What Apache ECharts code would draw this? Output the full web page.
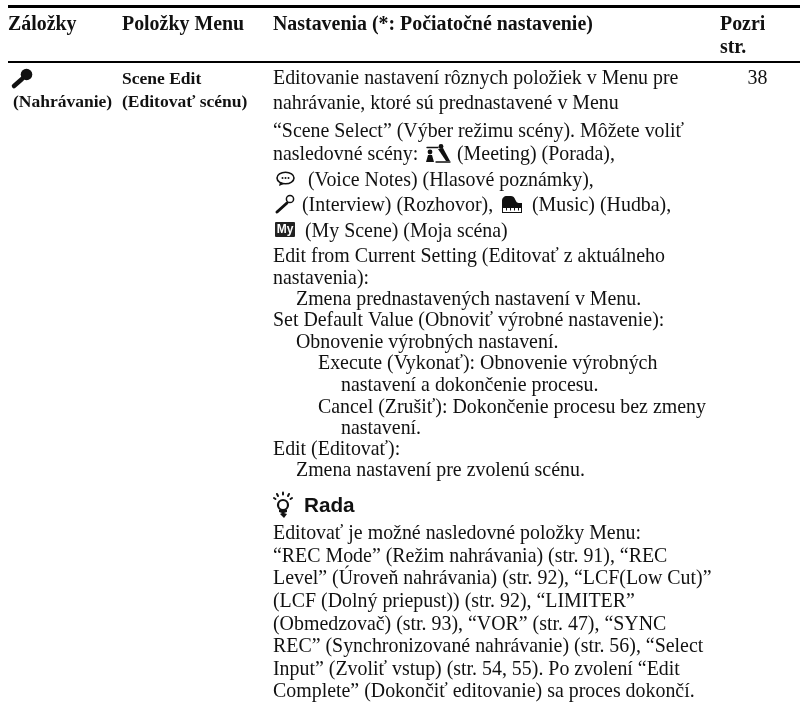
<!DOCTYPE html>
<html>
<head>
<meta charset="utf-8">
<style>
  html,body{margin:0;padding:0;background:#fff}
  #table-chart{width:800px;height:707px}
</style>
</head>
<body>
<div id="table-chart"></div>
<script src="https://cdn.jsdelivr.net/npm/echarts@6/dist/echarts.min.js"></script>
<script>
// table content
var headers = ["Záložky", "Položky Menu", "Nastavenia (*: Počiatočné nastavenie)", "Pozri", "str."]
var tabLabel = "(Nahrávanie)"
var itemLabels = ["Scene Edit", "(Editovať scénu)"]
var pageRef = "38"
var settingsLines = [
  "Editovanie nastavení rôznych položiek v Menu pre",
  "nahrávanie, ktoré sú prednastavené v Menu",
  "“Scene Select” (Výber režimu scény). Môžete voliť",
  "nasledovné scény:",
  "(Meeting) (Porada),",
  "(Voice Notes) (Hlasové poznámky),",
  "(Interview) (Rozhovor),",
  "(Music) (Hudba),",
  "(My Scene) (Moja scéna)",
  "Edit from Current Setting (Editovať z aktuálneho",
  "nastavenia):",
  "Zmena prednastavených nastavení v Menu.",
  "Set Default Value (Obnoviť výrobné nastavenie):",
  "Obnovenie výrobných nastavení.",
  "Execute (Vykonať): Obnovenie výrobných",
  "nastavení a dokončenie procesu.",
  "Cancel (Zrušiť): Dokončenie procesu bez zmeny",
  "nastavení.",
  "Edit (Editovať):",
  "Zmena nastavení pre zvolenú scénu."
]
var tipTitle = "Rada"
var tipLines = [
  "Editovať je možné nasledovné položky Menu:",
  "“REC Mode” (Režim nahrávania) (str. 91), “REC",
  "Level” (Úroveň nahrávania) (str. 92), “LCF(Low Cut)”",
  "(LCF (Dolný priepust)) (str. 92), “LIMITER”",
  "(Obmedzovač) (str. 93), “VOR” (str. 47), “SYNC",
  "REC” (Synchronizované nahrávanie) (str. 56), “Select",
  "Input” (Zvoliť vstup) (str. 54, 55). Po zvolení “Edit",
  "Complete” (Dokončiť editovanie) sa proces dokončí."
]

// layout, same order as settingsLines / tipLines
var settingsX = [273,273,273,273,457,308,302,532,305,273,273,296,273,296,318,341,318,341,273,296]
var settingsY = [85,110,138,161,161,187,212,212,238,263.5,285,306,327,349,370,392,414,435,456,477]
var tipY = [540,563,585,608,631,653,676,698]

var serif = '"Liberation Serif"'
var sans = '"Liberation Sans"'
var bodySize = 19.9

function text(x, baseline, str, size, weight, family, align) {
  return {
    type: 'text',
    x: x,
    y: baseline - size * 0.32,
    style: {
      text: str,
      fontFamily: family || serif,
      fontSize: size,
      fontWeight: weight || 'normal',
      fill: '#111',
      textAlign: align || 'left',
      textVerticalAlign: 'middle'
    }
  }
}
function rule(y, h) {
  return {type: 'rect', shape: {x: 8, y: y, width: 792, height: h}, style: {fill: '#000'}}
}
function icon(x, y, w, h, d) {
  return {type: 'path', shape: {pathData: d, layout: 'cover', x: x, y: y, width: w, height: h}, style: {fill: '#111'}}
}
function dot(cx, cy, r) {
  return {type: 'circle', shape: {cx: cx, cy: cy, r: r}, style: {fill: '#111'}}
}
function stroke(x1, y1, x2, y2, w) {
  return {type: 'line', shape: {x1: x1, y1: y1, x2: x2, y2: y2}, style: {stroke: '#111', lineWidth: w, lineCap: 'round'}}
}

var elements = [rule(5, 3), rule(61, 2)]

// header row
elements.push(text(8, 31, headers[0], bodySize, 'bold'))
elements.push(text(122, 31, headers[1], bodySize, 'bold'))
elements.push(text(273, 31, headers[2], bodySize, 'bold'))
elements.push(text(720, 31, headers[3], bodySize, 'bold'))
elements.push(text(720, 54, headers[4], bodySize, 'bold'))

// first two columns
elements.push(text(13, 108.5, tabLabel, 17.5, 'bold'))
elements.push(text(122, 85, itemLabels[0], 17.5, 'bold'))
elements.push(text(122, 108.5, itemLabels[1], 17.5, 'bold'))
elements.push(text(757.5, 85, pageRef, bodySize, 'normal', serif, 'center'))

settingsLines.forEach(function (line, i) {
  elements.push(text(settingsX[i], settingsY[i], line, bodySize))
})
tipLines.forEach(function (line, i) {
  elements.push(text(273, tipY[i], line, bodySize))
})
elements.push(text(304, 513, tipTitle, 20.7, 'bold', sans))

// icons go through a custom series, the graphic component has no generic path
var icons = [
  // mic
  dot(26.5, 74.5, 5.8),
  stroke(22, 79, 14, 86, 4.5),
  // meeting
  dot(430, 152, 2.4),
  {type: 'polygon', shape: {points: [[428, 155], [432, 155], [434, 162], [426, 162]]}, style: {fill: '#111'}},
  stroke(427, 147.5, 438, 147.5, 1.4),
  dot(441, 146.5, 2.4),
  {type: 'polygon', shape: {points: [[438, 149], [443, 148], [450, 161], [446, 161]]}, style: {fill: '#111'}},
  stroke(436, 162, 450, 162, 1.4),
  // voice notes
  {type: 'ellipse', shape: {cx: 285.5, cy: 178, rx: 8.5, ry: 5.8}, style: {fill: 'none', stroke: '#111', lineWidth: 1.6}},
  {type: 'polygon', shape: {points: [[280, 182], [279, 186], [285, 183.5]]}, style: {fill: '#111'}},
  dot(282.5, 178, 1), dot(285.5, 178, 1), dot(288.5, 178, 1),
  // interview
  stroke(287, 203, 277, 212, 3),
  {type: 'circle', shape: {cx: 290, cy: 199, r: 3.6}, style: {fill: '#fff', stroke: '#111', lineWidth: 1.5}},
  // music
  icon(502, 196, 20, 17, 'M0 17V5C0 2 2 0 5 0H9C12 0 13 3 14 5C15 7 16 7 20 7V17ZM1 12V16H19V12H17V14.5H16V12H13V14.5H12V12H9V14.5H8V12H5V14.5H4V12Z'),
  // my scene
  {type: 'rect', shape: {x: 275, y: 222, width: 20, height: 15, r: 1}, style: {fill: '#222'}},
  {type: 'text', x: 285, y: 230, style: {text: 'My', fontFamily: sans, fontSize: 12, fontWeight: 'bold', fill: '#fff', textAlign: 'center', textVerticalAlign: 'middle'}},
  // bulb
  {type: 'circle', shape: {cx: 283, cy: 505, r: 5}, style: {fill: 'none', stroke: '#111', lineWidth: 2.2}},
  icon(279, 510, 8, 8, 'M0 0H8V2L5 3L8 4L5 8L3 6L1 4L3 3L0 2Z'),
  stroke(283, 492.5, 283, 494.5, 2), stroke(277, 494, 278, 496, 2), stroke(289, 494, 288, 496, 2),
  stroke(274, 498, 275.5, 499, 2), stroke(292, 498, 290.5, 499, 2)
]

var tableChart = echarts.init(document.getElementById('table-chart'))
tableChart.setOption({
  animation: false,
  backgroundColor: '#fff',
  graphic: {elements: elements},
  series: [{
    type: 'custom',
    coordinateSystem: 'none',
    silent: true,
    data: [0],
    renderItem: function () {
      return {type: 'group', children: icons}
    }
  }]
})
</script>
</body>
</html>
